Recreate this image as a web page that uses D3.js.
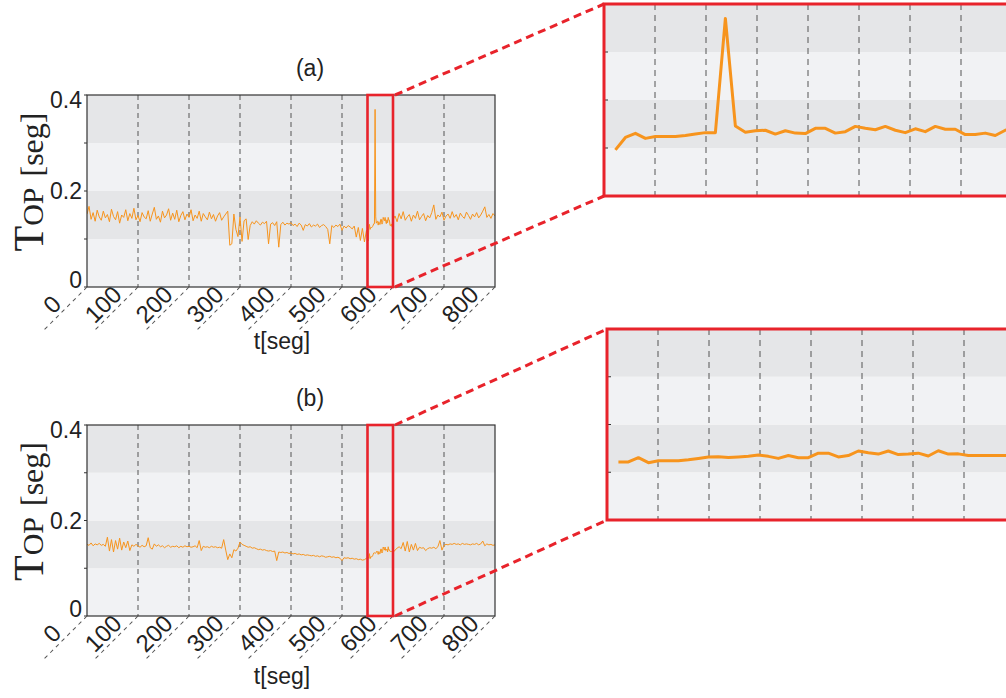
<!DOCTYPE html>
<html>
<head>
<meta charset="utf-8">
<script src="https://cdn.jsdelivr.net/npm/d3@7"></script>
<style>
  body { margin: 0; background: #fff; }
  svg { display: block; }
</style>
</head>
<body>
<svg id="chart" width="1006" height="698"></svg>
<script>
'use strict';

// -- series (a), sampled every 4 seg, before and after the zoomed window
const aBefore = [
  0.152, 0.168, 0.141, 0.155, 0.137, 0.160, 0.146, 0.139, 0.158, 0.144,
  0.151, 0.136, 0.162, 0.147, 0.140, 0.157, 0.133, 0.150, 0.145, 0.161,
  0.138, 0.153, 0.143, 0.164, 0.140, 0.149, 0.136, 0.155, 0.146, 0.142,
  0.159, 0.137, 0.152, 0.166, 0.141, 0.148, 0.135, 0.158, 0.144, 0.150,
  0.163, 0.139, 0.154, 0.141, 0.160, 0.136, 0.149, 0.157, 0.140, 0.152,
  0.145, 0.161, 0.138, 0.150, 0.143, 0.158, 0.137, 0.153, 0.146, 0.140,
  0.156, 0.142, 0.151, 0.137, 0.148, 0.155, 0.139, 0.146, 0.152, 0.158,
  0.087, 0.090, 0.152, 0.120, 0.105, 0.146, 0.095, 0.138, 0.142, 0.099,
  0.128, 0.136, 0.131, 0.138, 0.133, 0.129, 0.135, 0.132, 0.137, 0.090,
  0.131, 0.134, 0.128, 0.136, 0.083, 0.130, 0.135, 0.129, 0.133, 0.131,
  0.134, 0.128, 0.131, 0.126, 0.133, 0.129, 0.118, 0.130, 0.127, 0.132,
  0.125, 0.129, 0.127, 0.131, 0.124, 0.128, 0.130, 0.126, 0.120, 0.090,
  0.128, 0.124, 0.129, 0.126, 0.131, 0.118, 0.127, 0.123, 0.128, 0.125,
  0.121, 0.127, 0.104, 0.124, 0.097, 0.122, 0.094, 0.118
];
const aAfter = [
  0.140, 0.148, 0.136, 0.153, 0.142, 0.157, 0.139, 0.146, 0.151, 0.137,
  0.150, 0.143, 0.158, 0.140, 0.147, 0.153, 0.138, 0.149, 0.144, 0.155,
  0.171, 0.141, 0.150, 0.146, 0.156, 0.139, 0.148, 0.152, 0.143, 0.157,
  0.145, 0.151, 0.140, 0.154, 0.147, 0.143, 0.156, 0.149, 0.141, 0.152,
  0.146, 0.155, 0.144, 0.150, 0.158, 0.167, 0.145, 0.151, 0.143, 0.153,
  0.148
];
// -- series (a) inside the red window, full resolution
const aZoom = [
  0.096, 0.122, 0.1305, 0.120, 0.124, 0.124, 0.124, 0.126, 0.129, 0.132,
  0.132, 0.370, 0.146, 0.133, 0.136, 0.137, 0.129, 0.136, 0.131, 0.130,
  0.141, 0.141, 0.131, 0.134, 0.145, 0.141, 0.138, 0.145, 0.137, 0.132,
  0.140, 0.134, 0.145, 0.139, 0.139, 0.128, 0.128, 0.131, 0.126, 0.137
];

// -- series (b)
const bBefore = [
  0.150, 0.148, 0.153, 0.147, 0.151, 0.149, 0.152, 0.148, 0.150, 0.146,
  0.165, 0.136, 0.160, 0.134, 0.158, 0.140, 0.163, 0.138, 0.155, 0.143,
  0.157, 0.137, 0.149, 0.146, 0.150, 0.147, 0.144, 0.148, 0.145, 0.147,
  0.164, 0.143, 0.140, 0.151, 0.146, 0.149, 0.145, 0.147, 0.143, 0.146,
  0.148, 0.144, 0.146, 0.145, 0.147, 0.143, 0.146, 0.144, 0.147, 0.145,
  0.146, 0.144, 0.145, 0.147, 0.143, 0.158, 0.137, 0.146, 0.144, 0.145,
  0.143, 0.146, 0.144, 0.145, 0.143, 0.144, 0.142, 0.160, 0.138, 0.118,
  0.130, 0.122, 0.139, 0.136, 0.142, 0.155, 0.150, 0.148, 0.146, 0.144,
  0.145, 0.142, 0.143, 0.141, 0.139, 0.140, 0.138, 0.139, 0.137, 0.136,
  0.137, 0.135, 0.136, 0.116, 0.134, 0.133, 0.134, 0.132, 0.133, 0.131,
  0.132, 0.130, 0.131, 0.129, 0.130, 0.128, 0.129, 0.127, 0.128, 0.127,
  0.126, 0.127, 0.125, 0.126, 0.124, 0.126, 0.125, 0.123, 0.124, 0.125,
  0.123, 0.124, 0.122, 0.123, 0.121, 0.116, 0.122, 0.121, 0.122, 0.120,
  0.121, 0.119, 0.120, 0.118, 0.119, 0.117, 0.118, 0.121
];
const bAfter = [
  0.133, 0.138, 0.142, 0.145, 0.141, 0.154, 0.136, 0.156, 0.134, 0.150,
  0.138, 0.152, 0.137, 0.144, 0.142, 0.143, 0.137, 0.141, 0.143, 0.142,
  0.144, 0.141, 0.145, 0.158, 0.138, 0.148, 0.150, 0.149, 0.151, 0.150,
  0.152, 0.150, 0.151, 0.149, 0.152, 0.150, 0.151, 0.150, 0.149, 0.151,
  0.150, 0.152, 0.149, 0.151, 0.157, 0.147, 0.151, 0.149, 0.150, 0.148,
  0.149
];
const bZoom = [
  0.1215, 0.1215, 0.1305, 0.120, 0.124, 0.124, 0.124, 0.126, 0.129, 0.132,
  0.1326, 0.131, 0.132, 0.1333, 0.136, 0.1333, 0.129, 0.135, 0.1305, 0.1305,
  0.140, 0.140, 0.132, 0.135, 0.1445, 0.141, 0.138, 0.1445, 0.137, 0.138,
  0.140, 0.134, 0.145, 0.138, 0.1385, 0.135, 0.135, 0.135, 0.135, 0.135
];

// sampling
const coarseStep = 4;      // seg between coarse samples
const afterStart = 600;
const zoomStart = 551.4;   // first fine sample
const zoomStep = 1.225;    // seg between fine samples
const zoomWindow = [550, 600];

const xTicks = [0, 100, 200, 300, 400, 500, 600, 700, 800];
const yTicks = [0, 0.1, 0.2, 0.3, 0.4];
const yTickLabels = {0: '0', 0.2: '0.2', 0.4: '0.4'};

const ORANGE = '#f7941d', RED = '#e8232b';
const BAND_DARK = '#e5e6e8', BAND_LIGHT = '#f1f2f4';
const SANS = 'Liberation Sans, Arial, sans-serif';

function buildSeries(before, zoom, after)
{
	let pts = before.map((v, i) => ({t: i * coarseStep, v: v}));
	pts = pts.concat(zoom.map((v, i) => ({t: zoomStart + i * zoomStep, v: v})));
	pts = pts.concat(after.map((v, i) => ({t: afterStart + i * coarseStep, v: v})));
	return pts;
}

const svg = d3.select('#chart');

function bands(g, y, x0, x1)
{
	for (let i = 0; i < yTicks.length - 1; i++)
	{
		g.append('rect')
			.attr('x', x0).attr('width', x1 - x0)
			.attr('y', y(yTicks[i + 1])).attr('height', y(yTicks[i]) - y(yTicks[i + 1]))
			.attr('fill', i % 2 ? BAND_DARK : BAND_LIGHT);
	}
}

function drawPanel(p)
{
	const x = d3.scaleLinear().domain([0, 800]).range([p.left, p.left + p.w]);
	const y = d3.scaleLinear().domain([0, 0.4]).range([p.top + p.h, p.top]);
	const g = svg.append('g');
	const bottom = p.top + p.h;

	bands(g, y, p.left, p.left + p.w);

	// dashed grid
	g.selectAll('line.grid').data(xTicks.slice(1, -1)).join('line')
		.attr('x1', d => x(d)).attr('x2', d => x(d))
		.attr('y1', p.top).attr('y2', bottom)
		.attr('stroke', '#555').attr('stroke-width', 1).attr('stroke-dasharray', '5,4');

	const clipId = 'clip' + p.id;
	svg.append('clipPath').attr('id', clipId).append('rect')
		.attr('x', p.left).attr('y', p.top).attr('width', p.w).attr('height', p.h);

	g.append('path')
		.datum(p.series)
		.attr('clip-path', `url(#${clipId})`)
		.attr('fill', 'none').attr('stroke', ORANGE).attr('stroke-width', 1)
		.attr('stroke-linejoin', 'round')
		.attr('d', d3.line().x(d => x(d.t)).y(d => y(d.v)));

	// frame
	g.append('rect')
		.attr('x', p.left).attr('y', p.top).attr('width', p.w).attr('height', p.h)
		.attr('fill', 'none').attr('stroke', '#333').attr('stroke-width', 1.2);

	// y ticks + labels
	g.selectAll('line.yt').data(yTicks).join('line')
		.attr('x1', p.left - 3).attr('x2', p.left)
		.attr('y1', d => y(d)).attr('y2', d => y(d))
		.attr('stroke', '#333');
	g.selectAll('text.yl').data(yTicks.filter(d => d in yTickLabels)).join('text')
		.attr('x', p.left - 5)
		.attr('y', d => y(d) + (d === 0 ? -7 : d === 0.4 ? 5 : 0))
		.attr('dy', '0.35em')
		.attr('text-anchor', 'end')
		.attr('font-family', SANS).attr('font-size', 23)
		.attr('fill', '#222')
		.text(d => yTickLabels[d]);

	// slanted x tick labels with their dashed leader
	const xt = g.selectAll('g.xt').data(xTicks).join('g')
		.attr('transform', d => `translate(${x(d)},${bottom}) rotate(-45)`);
	xt.append('line')
		.attr('x1', 0).attr('x2', -64).attr('y1', 0).attr('y2', 0)
		.attr('stroke', '#555').attr('stroke-width', 1).attr('stroke-dasharray', '4,4');
	xt.append('text')
		.attr('x', -37).attr('y', -4)
		.attr('text-anchor', 'middle')
		.attr('font-family', SANS).attr('font-size', 24)
		.attr('fill', '#222')
		.text(d => d);

	// titles
	g.append('text')
		.attr('x', 310).attr('y', p.top - 19)
		.attr('text-anchor', 'middle')
		.attr('font-family', SANS).attr('font-size', 23)
		.attr('fill', '#222').text(p.title);
	g.append('text')
		.attr('x', 282).attr('y', bottom + p.xlabelGap)
		.attr('text-anchor', 'middle')
		.attr('font-family', SANS).attr('font-size', 23)
		.attr('fill', '#222').text('t[seg]');

	const yl = g.append('text')
		.attr('transform', `translate(43,${p.top + p.h / 2 - 9}) rotate(-90)`)
		.attr('text-anchor', 'middle')
		.attr('font-family', 'Liberation Serif, Times New Roman, serif')
		.attr('fill', '#222');
	yl.append('tspan').attr('font-size', 42).text('T');
	yl.append('tspan').attr('font-size', 30).text('OP');
	yl.append('tspan').attr('font-size', 32).attr('dx', 11).text('[seg]');

	// red window
	const bx0 = x(zoomWindow[0]), bx1 = x(zoomWindow[1]);
	g.append('rect')
		.attr('x', bx0).attr('y', p.top).attr('width', bx1 - bx0).attr('height', p.h)
		.attr('fill', 'none').attr('stroke', RED).attr('stroke-width', 2.6);

	// inset
	const ins = p.inset;
	const xi = d3.scaleLinear().domain(zoomWindow).range([ins.left, ins.left + p.w]);
	const yi = d3.scaleLinear().domain([0, 0.4]).range([ins.top + p.h, ins.top]);
	const gi = svg.append('g');
	const clipI = 'clipi' + p.id;
	svg.append('clipPath').attr('id', clipI).append('rect')
		.attr('x', ins.left).attr('y', ins.top).attr('width', p.w).attr('height', p.h);

	bands(gi, yi, ins.left, ins.left + p.w);

	// inset grid sits where the main grid sits, relative to the frame
	const insetGrid = xTicks.slice(1, -1).map(d =>
		zoomWindow[0] + d / 800 * (zoomWindow[1] - zoomWindow[0]));
	gi.selectAll('line.grid').data(insetGrid).join('line')
		.attr('x1', d => xi(d)).attr('x2', d => xi(d))
		.attr('y1', ins.top).attr('y2', ins.top + p.h)
		.attr('stroke', '#555').attr('stroke-width', 1).attr('stroke-dasharray', '6,5');

	gi.selectAll('line.yt').data(yTicks.slice(1, -1)).join('line')
		.attr('x1', ins.left).attr('x2', ins.left + 4)
		.attr('y1', d => yi(d)).attr('y2', d => yi(d))
		.attr('stroke', '#333');

	gi.append('path')
		.datum(p.series.filter(d => d.t >= zoomWindow[0] && d.t <= zoomWindow[1]))
		.attr('clip-path', `url(#${clipI})`)
		.attr('fill', 'none').attr('stroke', ORANGE).attr('stroke-width', 3)
		.attr('stroke-linejoin', 'round')
		.attr('d', d3.line().x(d => xi(d.t)).y(d => yi(d.v)));

	gi.append('rect')
		.attr('x', ins.left).attr('y', ins.top).attr('width', p.w).attr('height', p.h)
		.attr('fill', 'none').attr('stroke', RED).attr('stroke-width', 3);

	// connectors
	const conn = [[bx1, p.top, ins.left, ins.top], [bx1, bottom, ins.left, ins.top + p.h]];
	svg.selectAll(null).data(conn).join('line')
		.attr('x1', d => d[0] + 2).attr('y1', d => d[1])
		.attr('x2', d => d[2]).attr('y2', d => d[3])
		.attr('stroke', RED).attr('stroke-width', 3).attr('stroke-dasharray', '8,5');
}

drawPanel({
	id: 'a', title: '(a)', left: 87, top: 95, w: 408, h: 192, xlabelGap: 62,
	series: buildSeries(aBefore, aZoom, aAfter),
	inset: {left: 604, top: 4}
});
drawPanel({
	id: 'b', title: '(b)', left: 87, top: 425, w: 408, h: 191, xlabelGap: 68,
	series: buildSeries(bBefore, bZoom, bAfter),
	inset: {left: 607, top: 329}
});
</script>
</body>
</html>
